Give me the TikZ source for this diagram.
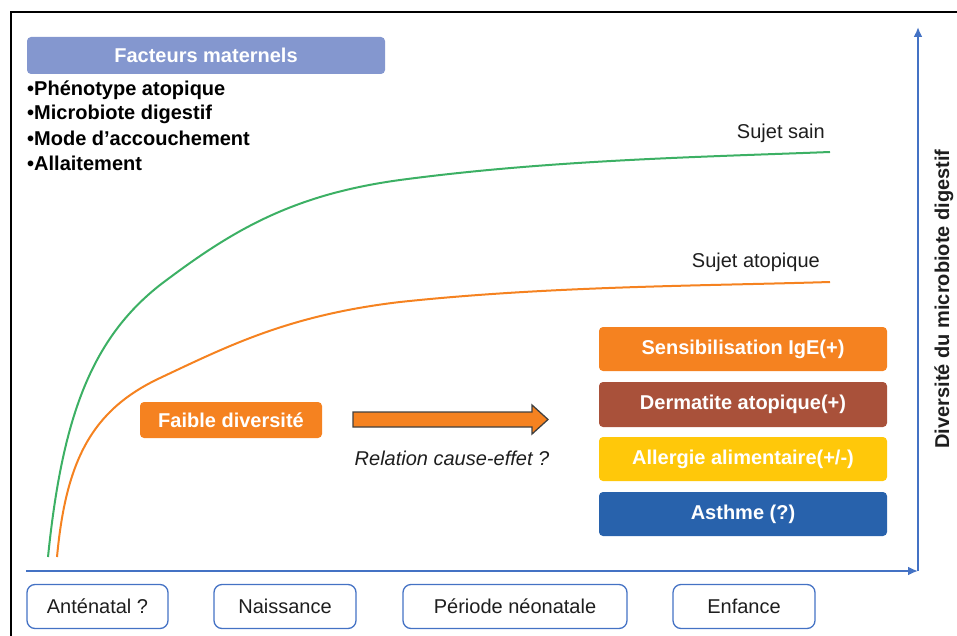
\documentclass[tikz,border=0pt]{standalone}
\usepackage{fontspec}
\setmainfont{Liberation Sans}
\usetikzlibrary{arrows.meta}
\definecolor{peri}{RGB}{132,151,207}
\definecolor{orangeC}{RGB}{245,130,32}
\definecolor{brownC}{RGB}{169,81,58}
\definecolor{yellowC}{RGB}{255,200,10}
\definecolor{blueC}{RGB}{40,98,172}
\definecolor{axisC}{RGB}{68,114,196}
\definecolor{greenC}{RGB}{60,176,100}
\definecolor{txt}{RGB}{30,30,30}
\tikzset{
  fbox/.style={rounded corners=4pt, inner sep=0pt, text=white, font=\fontsize{20}{24}\selectfont\bfseries, align=center},
  tbox/.style={draw=axisC, line width=1.3pt, rounded corners=8pt, inner sep=0pt, minimum height=44pt, text=txt, font=\fontsize{20}{24}\selectfont},
  bul/.style={anchor=west, inner sep=0pt, text=black, font=\fontsize{20}{24}\selectfont\bfseries},
  axisline/.style={draw=axisC, line width=2pt, -{Latex[length=10pt,width=9pt]}},
  curve/.style={line width=2pt}
}
\begin{document}
\begin{tikzpicture}[x=1pt,y=-1pt]
\useasboundingbox (0,0) rectangle (957,636);
% frame
\draw[line width=2.5pt] (11,636) -- (11,12) -- (957,12);
% maternal factors
\node[fbox, fill=peri, minimum width=358pt, minimum height=37pt] (mat) at (206,55.5) {Facteurs maternels};
\node[bul] (b1) at (27,90) {•Phénotype atopique};
\node[bul] (b2) at (27,114) {•Microbiote digestif};
\node[bul] (b3) at (27,138.5) {•Mode d’accouchement};
\node[bul] (b4) at (27,163) {•Allaitement};
% axes
\coordinate (o) at (918,571);
\coordinate (ytop) at (918,27);
\coordinate (xstart) at (26,571);
\draw[axisline] (o) -- (ytop);
\draw[axisline] (xstart) -- (o);
\node[rotate=90, inner sep=0pt, text=txt, font=\fontsize{20}{24}\selectfont\bfseries] (ylab) at (944,299) {Diversité du microbiote digestif};
% curves
\coordinate (g0) at (48,557);
\coordinate (g1) at (160,285);
\coordinate (g2) at (400,180);
\coordinate (g3) at (830,152);
\draw[curve, greenC] (g0) .. controls (62,420) and (90,340) .. (g1)
  .. controls (230,232) and (290,195) .. (g2)
  .. controls (550,160) and (700,157) .. (g3);
\coordinate (r0) at (57,557);
\coordinate (r1) at (160,378);
\coordinate (r2) at (400,302);
\coordinate (r3) at (830,282);
\draw[curve, orangeC] (r0) .. controls (66,460) and (92,410) .. (r1)
  .. controls (230,345) and (290,315) .. (r2)
  .. controls (550,286) and (700,286) .. (r3);
\node[anchor=east, inner sep=0pt, text=txt, font=\fontsize{20}{24}\selectfont] (sain) at (825,133) {Sujet sain};
\node[anchor=east, inner sep=0pt, text=txt, font=\fontsize{20}{24}\selectfont] (atop) at (820,262) {Sujet atopique};
% low diversity
\node[fbox, fill=orangeC, minimum width=182pt, minimum height=36pt] (faible) at (231,420) {Faible diversité};
\draw[fill=orangeC, draw=black!75, line width=1.3pt] (353,412) -- (532,412) -- (532,405) -- (548,419.5) -- (532,434) -- (532,427) -- (353,427) -- cycle;
\node[inner sep=0pt, text=txt, font=\fontsize{20}{24}\selectfont\itshape] (rel) at (452,458) {Relation cause-effet ?};
% outcome boxes
\node[fbox, fill=orangeC, minimum width=288pt, minimum height=44pt] (sens) at (743,349) {Sensibilisation IgE(+)};
\node[fbox, fill=brownC, minimum width=288pt, minimum height=45pt] (derm) at (743,404.5) {Dermatite atopique(+)};
\node[fbox, fill=yellowC, minimum width=288pt, minimum height=44pt] (aller) at (743,459) {Allergie alimentaire(+/-)};
\node[fbox, fill=blueC, minimum width=288pt, minimum height=44pt] (asth) at (743,514) {Asthme (?)};
% timeline boxes
\node[tbox, minimum width=141pt] (ante) at (97.5,606.5) {Anténatal ?};
\node[tbox, minimum width=142pt] (nais) at (285,606.5) {Naissance};
\node[tbox, minimum width=224pt] (neo) at (515,606.5) {Période néonatale};
\node[tbox, minimum width=142pt] (enf) at (744,606.5) {Enfance};
\end{tikzpicture}
\end{document}
